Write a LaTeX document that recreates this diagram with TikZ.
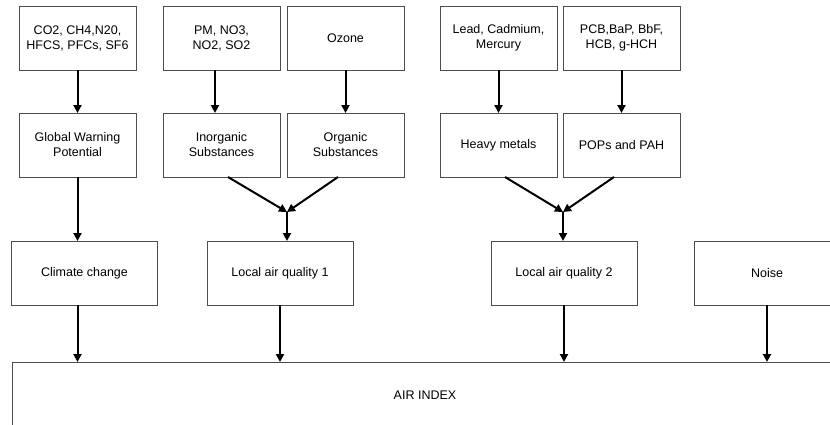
\documentclass[tikz,border=0pt]{standalone}
\usepackage{fontspec}
\setmainfont{Liberation Sans}
\usetikzlibrary{positioning,arrows.meta}

\begin{document}
\begin{tikzpicture}[x=1pt, y=-1pt,
    every node/.style={font=\fontsize{12.5}{15}\selectfont},
    box/.style={draw=black!70, line width=1pt, align=center,
        minimum width=117pt, minimum height=64pt, outer sep=0pt},
    wide/.style={box, minimum width=146pt},
    arr/.style={line width=2pt, -{Triangle[length=8pt,width=8pt]}}]
        \clip (0,0) rectangle (830,424);

        % sources
        \node[box](co2) at (77.5,38){CO2, CH4,N20,\\HFCS, PFCs, SF6};
        \node[box](pm) at (221.5,38){PM, NO3,\\NO2, SO2};
        \node[box, right=7pt of pm](ozone){Ozone};
        \node[box](lead) at (498.5,38){Lead, Cadmium,\\Mercury};
        \node[box, right=6pt of lead](pcb){PCB,BaP, BbF,\\HCB, g-HCH};

        % groups
        \node[box, below=43pt of co2](gwp){Global Warning\\Potential};
        \node[box, below=43pt of pm](inorg){Inorganic\\Substances};
        \node[box, below=43pt of ozone](org){Organic\\Substances};
        \node[box, below=43pt of lead](heavy){Heavy metals};
        \node[box, below=43pt of pcb](pops){POPs and PAH};

        % impacts
        \node[wide](climate) at (84.5,273){Climate change};
        \node[wide](laq1) at (280,273){Local air quality 1};
        \node[wide](laq2) at (564,273){Local air quality 2};
        \node[wide](noise) at (767,273){Noise};

        \node[box, anchor=north west, minimum width=826pt,
            minimum height=66pt](air) at (12,362){AIR INDEX};

        \coordinate (m1) at (287,212);
        \coordinate (m2) at (563,212);

        \draw[arr](co2)--(gwp);
        \draw[arr]([xshift=-6.5pt]pm.south)--([xshift=-6.5pt]inorg.north);
        \draw[arr](ozone)--(org);
        \draw[arr](lead)--(heavy);
        \draw[arr](pcb)--(pops);

        \draw[arr]([xshift=6.5pt]inorg.south)--(m1);
        \draw[arr]([xshift=-7.5pt]org.south)--(m1);
        \draw[arr](m1)--(m1 |- laq1.north);
        \draw[arr]([xshift=6.5pt]heavy.south)--(m2);
        \draw[arr]([xshift=-7.5pt]pops.south)--(m2);
        \draw[arr](m2)--(m2 |- laq2.north);

        \draw[arr](gwp.south)--(gwp.south |- climate.north);
        \draw[arr](climate.south -| gwp.south)--(gwp.south |- air.north);
        \draw[arr](laq1.south)--(laq1.south |- air.north);
        \draw[arr](laq2.south)--(laq2.south |- air.north);
        \draw[arr](noise.south)--(noise.south |- air.north);
    \end{tikzpicture}
\end{document}
